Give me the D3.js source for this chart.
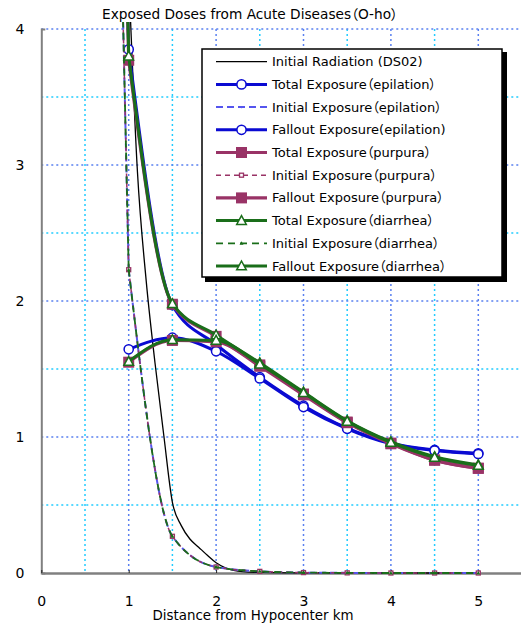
<!DOCTYPE html>
<html>
<head>
<meta charset="utf-8">
<script src="https://cdn.jsdelivr.net/npm/d3@7"></script>
<style>
  body { margin: 0; background: #fff; }
  text { font-family: "DejaVu Sans", "Noto Sans CJK JP", sans-serif; font-size: 13px; fill: #000;
         font-feature-settings: "palt"; }
</style>
</head>
<body>
<script>
// distances (km); the first one of the "near" list sits off the chart, above the top
const nearKm = [0.5, 1, 1.5, 2, 2.5, 3, 3.5, 4, 4.5, 5];
const distKm = [1, 1.5, 2, 2.5, 3, 3.5, 4, 4.5, 5];
const ds02Km = [1, 1.1, 1.2, 1.3, 1.4, 1.5, 1.6, 1.7, 1.8, 1.9, 2, 2.1, 2.2, 2.3, 2.5, 3, 3.5, 4, 4.5, 5];

const ds02Dose = [4.4, 2.95, 2.15, 1.55, 1.02, 0.52, 0.35, 0.25, 0.19, 0.13, 0.075, 0.04, 0.02, 0.01, 0.004, 0.001, 0, 0, 0, 0];

const initialDose = [16.5, 2.23, 0.27, 0.044, 0.012, 0.003, 0.001, 0, 0, 0];

const totalEpilation = [18.1, 3.85, 1.97, 1.68, 1.44, 1.23, 1.065, 0.955, 0.905, 0.88];
const falloutEpilation = [1.645, 1.73, 1.63, 1.43, 1.22, 1.06, 0.95, 0.9, 0.875];
const totalPurpura = [18.0, 3.77, 1.976, 1.74, 1.53, 1.316, 1.11, 0.955, 0.83, 0.77];
const falloutPurpura = [1.55, 1.71, 1.7, 1.52, 1.31, 1.105, 0.95, 0.83, 0.77];
const totalDiarrhea = [18.0, 3.8, 1.98, 1.75, 1.545, 1.33, 1.12, 0.965, 0.855, 0.795];
const falloutDiarrhea = [1.555, 1.715, 1.71, 1.535, 1.325, 1.115, 0.96, 0.85, 0.79];

const xTicks = [0, 1, 2, 3, 4, 5];
const yTicks = [0, 1, 2, 3, 4];

const title = "Exposed Doses from Acute Diseases（O-ho）";
const xTitle = "Distance from Hypocenter km";

const blue = "#0a0ad2", blueLight = "#5555ee", plum = "#993366", green = "#1a6e1a";

const series = [
  { name: "Initial Radiation (DS02)", xs: ds02Km, ys: ds02Dose, color: "#000", width: 1.3, dash: null, mark: null },
  { name: "Total Exposure（epilation）", xs: nearKm, ys: totalEpilation, color: blue, width: 3, dash: null, mark: "circle" },
  { name: "Initial Exposure（epilation）", xs: nearKm, ys: initialDose, color: blueLight, width: 2, dash: "7,4", mark: "dot" },
  { name: "Fallout Exposure(epilation)", xs: distKm, ys: falloutEpilation, color: blue, width: 3, dash: null, mark: "circle" },
  { name: "Total Exposure（purpura）", xs: nearKm, ys: totalPurpura, color: plum, width: 3.2, dash: null, mark: "square" },
  { name: "Initial Exposure（purpura）", xs: nearKm, ys: initialDose, color: plum, width: 1.5, dash: "5,4", mark: "smallsquare" },
  { name: "Fallout Exposure（purpura）", xs: distKm, ys: falloutPurpura, color: plum, width: 3.2, dash: null, mark: "square" },
  { name: "Total Exposure（diarrhea）", xs: nearKm, ys: totalDiarrhea, color: green, width: 3, dash: null, mark: "triangle" },
  { name: "Initial Exposure（diarrhea）", xs: nearKm, ys: initialDose, color: green, width: 1.8, dash: "7,5", mark: "smalltri" },
  { name: "Fallout Exposure（diarrhea）", xs: distKm, ys: falloutDiarrhea, color: green, width: 3, dash: null, mark: "triangle" }
];

const svg = d3.select("body").append("svg")
  .attr("width", 521)
  .attr("height", 624);

const x = d3.scaleLinear().domain([0, 5.5]).range([41.3, 522]);
const y = d3.scaleLinear().domain([0, 4]).range([573, 29]);

svg.append("defs").append("clipPath").attr("id", "plot")
  .append("rect").attr("x", 41).attr("y", 22).attr("width", 481).attr("height", 560);

// grid: dotted, whole numbers blue, halves cyan
const gridVals = d3.range(1, 12).map(d => d / 2);
svg.append("g").selectAll("line")
  .data(gridVals.filter(d => d <= 5.5))
  .enter().append("line")
  .attr("x1", d => x(d)).attr("x2", d => x(d))
  .attr("y1", y(4)).attr("y2", y(0))
  .attr("stroke", d => d % 1 ? "#22ccff" : "#5a80f0")
  .attr("stroke-width", 1.5)
  .attr("stroke-dasharray", "2,3");
svg.append("g").selectAll("line")
  .data(gridVals.filter(d => d <= 4))
  .enter().append("line")
  .attr("x1", x(0)).attr("x2", 521)
  .attr("y1", d => y(d)).attr("y2", d => y(d))
  .attr("stroke", d => d % 1 ? "#22ccff" : "#5a80f0")
  .attr("stroke-width", 1.5)
  .attr("stroke-dasharray", "2,3");

// axes
const yAxis = d3.axisLeft(y).tickValues(yTicks).tickFormat(d3.format("d"))
  .tickSizeInner(0).tickSizeOuter(-4).tickPadding(17);
const gy = svg.append("g").attr("transform", "translate(41.3,0)").call(yAxis);
gy.select(".domain").attr("stroke", "#808080").attr("stroke-width", 2);
gy.selectAll("text").style("font-size", "14px");

const xAxis = d3.axisBottom(x).tickValues(xTicks).tickFormat(d3.format("d"))
  .tickSizeInner(-3).tickSizeOuter(0).tickPadding(23);
const gx = svg.append("g").attr("transform", "translate(0,573)").call(xAxis);
gx.select(".domain").attr("stroke", "#808080").attr("stroke-width", 2.5);
gx.selectAll(".tick line").attr("stroke", "#222");
gx.selectAll("text").style("font-size", "14px");

svg.append("text").attr("x", 250).attr("y", 19).attr("text-anchor", "middle")
  .style("font-size", "13.7px").text(title);
svg.append("text").attr("x", 253).attr("y", 620).attr("text-anchor", "middle")
  .style("font-size", "13.4px").text(xTitle);

// lines: the steep leg from the off-chart point is straight, the rest smoothed
const smooth = d3.line().x(d => x(d[0])).y(d => y(d[1])).curve(d3.curveMonotoneX);
const straight = d3.line().x(d => x(d[0])).y(d => y(d[1]));

function pathOf(s) {
  const pts = s.xs.map((k, i) => [k, s.ys[i]]);
  if (pts[0][0] < 1) return straight(pts.slice(0, 2)) + smooth(pts.slice(1));
  return smooth(pts);
}

function drawMark(g, kind, color, cx, cy) {
  if (kind === "circle") {
    g.append("circle").attr("cx", cx).attr("cy", cy).attr("r", 4.6)
      .attr("fill", "#fff").attr("stroke", color).attr("stroke-width", 1.5);
  } else if (kind === "square") {
    g.append("rect").attr("x", cx - 5.5).attr("y", cy - 5.5).attr("width", 11).attr("height", 11)
      .attr("fill", color);
  } else if (kind === "triangle") {
    g.append("path").attr("d", `M${cx},${cy - 5}L${cx + 4.8},${cy + 3.8}L${cx - 4.8},${cy + 3.8}Z`)
      .attr("fill", "#fff").attr("stroke", color).attr("stroke-width", 1.5);
  } else if (kind === "smallsquare") {
    g.append("rect").attr("x", cx - 2).attr("y", cy - 2).attr("width", 4).attr("height", 4)
      .attr("fill", "#fff").attr("stroke", color).attr("stroke-width", 1.3);
  } else if (kind === "smalltri") {
    g.append("path").attr("d", `M${cx},${cy - 2}L${cx + 2},${cy + 1.5}L${cx - 2},${cy + 1.5}Z`)
      .attr("fill", color);
  } else if (kind === "dot") {
    g.append("circle").attr("cx", cx).attr("cy", cy).attr("r", 1.2).attr("fill", color);
  }
}

const plot = svg.append("g").attr("clip-path", "url(#plot)");
series.forEach(s => {
  plot.append("path")
    .attr("d", pathOf(s))
    .attr("fill", "none")
    .attr("stroke", s.color)
    .attr("stroke-width", s.width)
    .attr("stroke-dasharray", s.dash);
  if (s.mark) {
    const mg = plot.append("g");
    s.xs.forEach((k, i) => {
      if (k >= 1 && s.ys[i] <= 4.05) drawMark(mg, s.mark, s.color, x(k), y(s.ys[i]));
    });
  }
});

// legend with its drop shadow
const lg = svg.append("g").attr("transform", "translate(202,49)");
lg.append("rect").attr("x", 3).attr("y", 3).attr("width", 302).attr("height", 230).attr("fill", "#000");
lg.append("rect").attr("width", 300).attr("height", 228)
  .attr("fill", "#fff").attr("stroke", "#000").attr("stroke-width", 1.5);

series.forEach((s, i) => {
  const ry = 12.7 + i * 22.7;
  lg.append("line").attr("x1", 14).attr("x2", 65).attr("y1", ry).attr("y2", ry)
    .attr("stroke", s.color).attr("stroke-width", s.width).attr("stroke-dasharray", s.dash);
  if (s.mark) drawMark(lg, s.mark, s.color, 39.5, ry);
  lg.append("text").attr("x", 70).attr("y", ry + 4.5).text(s.name);
});
</script>
</body>
</html>
